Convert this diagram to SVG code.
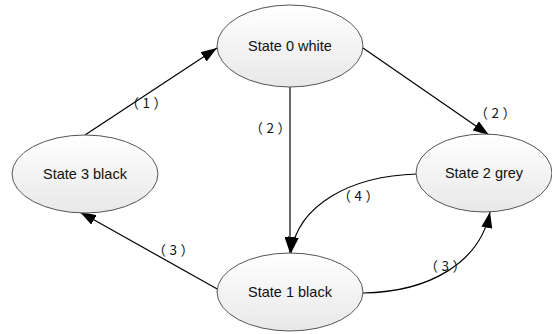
<svg xmlns="http://www.w3.org/2000/svg" width="552" height="334" viewBox="0 0 552 334">
<defs>
<linearGradient id="g" x1="0" y1="0" x2="0" y2="1">
<stop offset="0" stop-color="#ffffff"/>
<stop offset="1" stop-color="#e8e8e8"/>
</linearGradient>
<marker id="arr" markerWidth="16" markerHeight="11" refX="16" refY="5.5" orient="auto" markerUnits="userSpaceOnUse">
<path d="M0,0 L16,5.5 L0,11 Z" fill="#000"/>
</marker>
<style>
.node ellipse{fill:url(#g);stroke:#555;stroke-width:1}
.node text{font-family:"Liberation Sans",Arial,sans-serif;font-size:14.5px;fill:#111;text-anchor:middle}
.edge{fill:none;stroke:#000;stroke-width:1.2;marker-end:url(#arr)}
.lbl{font-family:"Noto Sans CJK SC","Liberation Sans",sans-serif;font-size:13.5px;fill:#111;text-anchor:middle;letter-spacing:3.5px}
</style>
</defs>
<rect width="552" height="334" fill="#fff"/>
<g id="connectors">
<path class="edge" d="M85,135 L217,48"/>
<path class="edge" d="M363,48 L489,135"/>
<path class="edge" d="M290,87 L290,253"/>
<path class="edge" d="M417,174 C350,176 298,205 291,253"/>
<path class="edge" d="M363,293 C430,292 480,262 490,212"/>
<path class="edge" d="M219,290 L80,212"/>
<text class="lbl" x="148" y="108">（1）</text>
<text class="lbl" x="497" y="118">（2）</text>
<text class="lbl" x="272" y="133">（2）</text>
<text class="lbl" x="360" y="201">（4）</text>
<text class="lbl" x="175" y="255">（3）</text>
<text class="lbl" x="447" y="271">（3）</text>
</g>
<g id="state0" class="node">
<ellipse cx="290" cy="46" rx="73" ry="41"/>
<text x="290" y="51">State 0 white</text>
</g>
<g id="state3" class="node">
<ellipse cx="85" cy="174" rx="73" ry="39"/>
<text x="85" y="179">State 3 black</text>
</g>
<g id="state2" class="node">
<ellipse cx="484" cy="173" rx="68" ry="39"/>
<text x="484" y="178">State 2 grey</text>
</g>
<g id="state1" class="node">
<ellipse cx="290" cy="292" rx="73" ry="39"/>
<text x="290" y="297">State 1 black</text>
</g>
</svg>
